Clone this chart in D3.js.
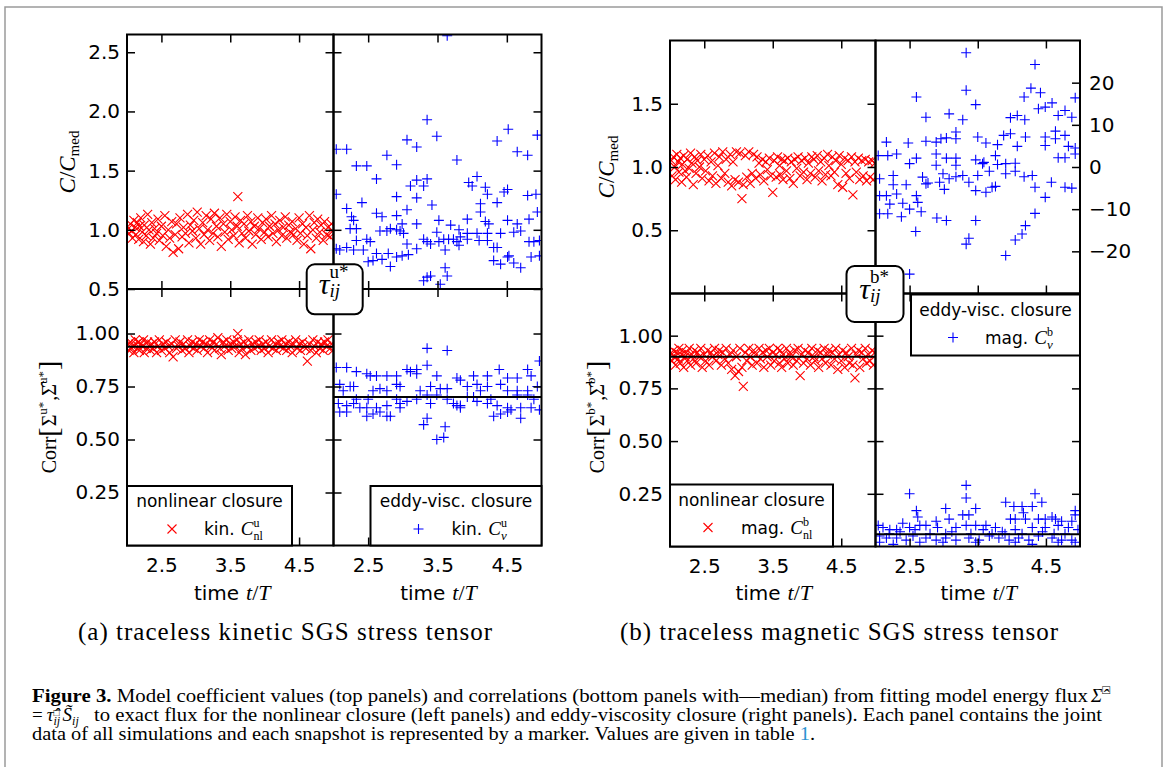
<!DOCTYPE html>
<html>
<head>
<meta charset="utf-8">
<script src="https://cdn.jsdelivr.net/npm/d3@7"></script>
<style>
body { margin: 0; background: #fff; }
.tick text { font-family: "DejaVu Sans"; font-size: 20px; fill: #000; }
</style>
</head>
<body>
<svg id="fig" width="1165" height="767"></svg>
<script>
// ---- data ----
var timeDomain = [2, 5];
var timeTicks = [2.5, 3.5, 4.5];
var ratioTicksKin = [0.5, 1.0, 1.5, 2.0, 2.5];
var ratioTicksMag = [0.5, 1.0, 1.5];
var twinTicks = [-20, -10, 0, 10, 20];
var corrTicks = [0.25, 0.5, 0.75, 1.0];

// snapshot times shared by the nonlinear-closure series
var nlTimes = [2.02,2.03,2.05,2.07,2.08,2.10,2.12,2.13,2.15,2.17, 2.18,2.20,2.22,2.24,2.25,2.28,2.30,2.32,2.34,2.36,
  2.38,2.40,2.43,2.45,2.47,2.50,2.52,2.55,2.57,2.60, 2.62,2.65,2.67,2.70,2.72,2.75,2.77,2.80,2.82,2.85,
  2.88,2.90,2.92,2.95,2.97,3.00,3.02,3.05,3.07,3.10, 3.12,3.15,3.17,3.20,3.22,3.25,3.27,3.30,3.32,3.35,
  3.37,3.40,3.42,3.45,3.47,3.50,3.52,3.55,3.57,3.60, 3.61,3.63,3.65,3.67,3.70,3.72,3.75,3.77,3.80,3.82,
  3.85,3.87,3.90,3.92,3.95,3.97,4.00,4.02,4.05,4.07, 4.10,4.12,4.15,4.17,4.20,4.22,4.25,4.27,4.30,4.32,
  4.35,4.37,4.40,4.42,4.45,4.47,4.50,4.52,4.55,4.57, 4.60,4.62,4.65,4.67,4.70,4.72,4.75,4.77,4.80,4.82,
  4.85,4.87,4.90,4.92,4.95,4.97,4.99];

var kinCnlTop = [1.01,0.97,1.05,0.99,0.93,1.08,1.02,0.96,1.06,0.92, 1.03,1.10,0.98,0.90,1.04,0.95,1.13,1.00,0.88,1.06,
  0.93,1.01,0.97,1.09,0.91,1.03,0.95,1.12,0.86,1.00, 0.93,1.07,0.81,0.96,1.05,0.84,1.10,0.94,1.02,0.97,
  1.13,0.89,1.04,0.99,1.08,0.93,1.15,1.01,0.88,1.06, 0.96,1.12,1.00,0.91,1.09,0.97,1.14,1.03,0.94,1.10,
  0.86,1.05,0.98,1.13,0.92,1.07,1.00,0.95,1.11,1.03, 1.28,0.89,1.08,0.97,1.05,0.93,1.12,0.99,1.07,0.88,
  1.03,0.96,1.10,1.01,0.92,1.06,0.98,1.09,0.94,1.03, 1.12,0.97,1.05,0.90,1.00,1.08,0.95,1.02,1.11,0.93,
  1.04,0.98,1.07,0.96,1.01,0.91,1.10,0.97,1.05,0.88, 1.02,0.95,1.12,0.84,1.00,1.06,0.93,1.09,0.98,1.04,
  0.91,1.07,0.96,1.02,0.94,1.05,0.99];

var kinCnlCorr = [0.95,0.92,0.96,0.93,0.94,0.91,0.97,0.95,0.93,0.96, 0.92,0.95,0.94,0.97,0.91,0.93,0.96,0.94,0.92,0.95,
  0.93,0.96,0.91,0.94,0.97,0.92,0.95,0.93,0.96,0.94, 0.91,0.95,0.89,0.97,0.93,0.94,0.96,0.92,0.95,0.93,
  0.97,0.91,0.94,0.96,0.93,0.95,0.92,0.97,0.94,0.96, 0.93,0.95,0.91,0.97,0.94,0.96,0.92,0.95,0.98,0.93,
  0.90,0.96,0.94,0.97,0.92,0.95,0.93,0.96,0.94,0.97, 1.00,0.91,0.95,0.93,0.96,0.90,0.94,0.97,0.92,0.95,
  0.93,0.96,0.94,0.97,0.92,0.95,0.93,0.96,0.91,0.94, 0.97,0.93,0.95,0.92,0.96,0.94,0.97,0.93,0.95,0.92,
  0.96,0.94,0.91,0.95,0.97,0.93,0.95,0.92,0.96,0.94, 0.93,0.87,0.95,0.92,0.97,0.94,0.91,0.96,0.93,0.95,
  0.92,0.96,0.94,0.97,0.93,0.95,0.92];

var magCnlTop = [1.05,0.93,1.08,1.00,0.90,1.10,1.04,0.96,1.07,0.88, 1.02,1.09,0.97,0.92,1.06,0.99,1.11,1.03,0.86,1.08,
  0.95,1.05,1.00,1.10,0.91,1.06,0.97,1.09,0.89,1.04, 0.93,1.11,0.87,1.01,1.08,0.91,1.12,0.95,1.06,0.88,
  1.10,0.85,1.04,0.90,1.12,0.88,1.11,0.75,0.86,1.09, 0.92,1.12,0.87,0.95,1.10,0.91,1.08,1.03,0.94,1.06,
  0.89,1.04,0.98,1.07,0.93,0.80,1.05,0.92,1.08,1.01, 0.94,1.06,0.90,1.05,0.97,1.07,0.91,1.04,0.87,1.06,
  0.99,1.08,0.93,1.05,0.96,1.07,0.90,1.03,0.95,1.08, 1.06,0.92,1.09,0.97,1.04,0.89,1.07,0.94,1.10,1.01,
  0.93,1.08,0.96,1.05,0.86,1.09,1.02,0.84,1.07,0.95, 1.05,0.91,1.08,0.78,1.04,0.96,1.07,0.90,1.05,0.93,
  1.06,0.89,1.04,0.92,1.05,0.90,1.03];

var magCnlCorr = [0.91,0.88,0.93,0.90,0.86,0.92,0.89,0.94,0.87,0.91, 0.93,0.85,0.90,0.92,0.88,0.94,0.86,0.91,0.89,0.93,
  0.87,0.92,0.90,0.94,0.85,0.91,0.88,0.93,0.86,0.92, 0.90,0.94,0.88,0.91,0.93,0.86,0.92,0.89,0.94,0.87,
  0.91,0.84,0.93,0.81,0.90,0.83,0.94,0.85,0.76,0.92, 0.88,0.94,0.90,0.86,0.93,0.91,0.87,0.94,0.89,0.92,
  0.85,0.93,0.90,0.94,0.86,0.92,0.88,0.91,0.94,0.87, 0.93,0.85,0.91,0.89,0.94,0.87,0.92,0.90,0.86,0.93,
  0.88,0.94,0.81,0.91,0.87,0.93,0.89,0.92,0.86,0.94, 0.90,0.88,0.93,0.85,0.92,0.89,0.94,0.87,0.91,0.93,
  0.86,0.92,0.89,0.94,0.84,0.91,0.88,0.93,0.85,0.92, 0.90,0.87,0.94,0.86,0.80,0.91,0.93,0.85,0.92,0.89,
  0.94,0.87,0.91,0.88,0.93,0.86,0.92];

// eddy-viscosity closure: [time, value]
var kinCnuTop = [[2.04,1.68],[2.19,1.68],[2.33,1.54],[2.48,1.54],[2.04,1.30],[2.19,1.18],[2.26,1.11],[2.41,1.23],[2.62,1.43],[2.77,1.63],
  [2.91,1.55],[3.06,1.76],[3.20,1.70],[3.35,1.93],[3.49,1.79],[2.62,1.14],[2.70,1.11],[2.91,1.12],[2.91,1.28],[3.06,1.17],
  [3.20,1.27],[3.11,1.37],[3.20,1.42],[3.35,1.43],[3.30,1.37],[3.42,1.21],[3.20,1.05],[2.99,1.05],[2.77,0.99],[2.82,1.01],
  [2.91,1.00],[2.96,0.99],[3.52,1.08],[3.49,0.98],[3.69,1.04],[3.78,1.59],[3.81,1.00],[3.93,1.09],[3.95,1.40],[4.07,1.45],
  [4.00,1.37],[4.19,1.36],[4.22,1.30],[4.36,1.23],[4.46,1.32],[4.51,1.34],[4.12,1.22],[4.12,1.15],[4.19,1.07],[4.24,1.05],
  [4.36,1.75],[4.52,1.85],[4.65,1.66],[4.80,1.63],[4.94,1.80],[4.80,1.29],[4.92,1.30],[4.94,1.15],[4.51,1.08],[4.65,1.05],
  [4.70,0.99],[4.82,1.09],[2.04,0.84],[2.09,0.83],[2.19,0.85],[2.29,0.83],[2.33,1.01],[2.33,0.91],[2.43,0.83],[2.48,0.92],
  [2.53,0.90],[2.50,0.73],[2.57,0.74],[2.62,0.80],[2.70,0.75],[2.79,0.80],[2.82,0.69],[2.91,0.77],[2.99,0.78],[3.06,0.88],
  [3.08,0.79],[3.20,0.84],[3.30,0.92],[3.35,0.90],[3.40,0.88],[3.52,0.90],[3.59,0.92],[3.61,0.83],[3.66,0.92],[3.73,0.92],
  [3.78,0.90],[3.81,0.87],[3.83,0.94],[3.93,0.92],[4.07,0.97],[4.10,0.91],[4.22,0.97],[4.22,0.91],[4.31,0.85],[4.36,0.85],
  [4.41,0.97],[4.51,0.77],[4.53,0.78],[4.60,0.72],[4.70,0.68],[4.31,0.74],[4.41,0.71],[4.60,0.98],[4.82,0.90],[4.89,0.90],
  [4.97,0.91],[4.97,0.78],[4.85,0.77],[3.35,0.60],[3.40,0.61],[3.30,0.57],[3.54,0.54],[3.61,0.68],[3.64,0.61],[3.64,2.64],
  [2.29,1.08],[2.24,1.01],[2.67,0.99],[3.01,0.97],[3.93,0.97]];

var kinCnuCorr = [[3.35,0.93],[3.64,0.92],[3.35,0.85],[2.04,0.84],[2.19,0.84],[2.33,0.82],[2.48,0.81],[2.62,0.80],[2.77,0.80],[2.91,0.80],
  [3.06,0.83],[3.20,0.83],[3.11,0.82],[3.20,0.81],[3.49,0.80],[3.78,0.79],[4.02,0.80],[4.22,0.80],[4.39,0.83],[4.51,0.79],
  [4.65,0.79],[4.80,0.83],[4.85,0.80],[4.97,0.87],[2.09,0.76],[2.24,0.75],[2.14,0.73],[2.29,0.75],[2.57,0.73],[2.67,0.74],
  [2.77,0.73],[2.91,0.76],[2.96,0.75],[3.25,0.73],[3.40,0.75],[3.54,0.74],[3.64,0.74],[3.93,0.75],[4.07,0.76],[4.12,0.73],
  [4.22,0.75],[4.41,0.76],[4.51,0.73],[4.65,0.73],[4.80,0.73],[4.94,0.75],[4.80,0.71],[4.65,0.71],[2.07,0.67],[2.19,0.66],
  [2.29,0.67],[2.38,0.65],[2.48,0.65],[2.50,0.69],[2.62,0.65],[2.77,0.66],[2.96,0.67],[3.06,0.68],[3.20,0.69],[3.35,0.71],
  [3.49,0.71],[3.64,0.69],[3.73,0.67],[3.83,0.65],[3.93,0.70],[4.07,0.68],[4.22,0.67],[4.36,0.66],[4.51,0.65],[4.70,0.65],
  [4.85,0.65],[4.97,0.64],[2.09,0.63],[2.19,0.63],[2.48,0.61],[2.57,0.62],[2.67,0.63],[2.77,0.61],[2.82,0.61],[3.78,0.66],
  [3.83,0.66],[4.31,0.61],[4.41,0.62],[4.70,0.60],[3.30,0.57],[3.35,0.60],[3.61,0.56],[3.49,0.50],[3.59,0.51],[4.51,0.63],
  [4.56,0.64],[2.33,0.69],[2.91,0.69],[4.02,0.70],[4.27,0.69],[4.89,0.69],[2.96,0.65],[3.40,0.67],[2.53,0.80],[3.83,0.78]];

var magCnuTop = [[3.33,27.1],[4.34,24.3],[2.60,16.6],[3.33,18.2],[3.47,14.8],[4.18,16.6],[4.28,18.7],[4.42,17.6],[2.74,11.8],[3.08,12.6],
  [3.28,11.2],[4.39,13.8],[4.49,14.2],[4.59,15.2],[4.68,12.2],[4.78,13.4],[4.88,11.8],[4.93,16.4],[3.98,11.7],[4.08,12.2],
  [4.19,11.2],[2.16,5.9],[2.48,5.7],[2.74,6.1],[2.89,5.9],[2.96,6.7],[3.04,6.9],[3.18,8.3],[3.18,6.7],[3.50,7.1],
  [3.62,5.7],[3.79,5.3],[3.88,7.5],[3.98,7.9],[4.08,4.9],[4.20,7.1],[4.49,7.1],[4.49,5.1],[4.64,6.7],[4.64,8.5],
  [4.78,7.5],[4.83,4.9],[4.93,4.5],[4.93,3.1],[2.04,2.7],[2.18,2.7],[2.31,3.1],[2.50,0.8],[2.60,2.1],[2.89,3.1],
  [2.89,0.4],[3.04,2.1],[3.18,2.1],[3.18,0.4],[3.47,1.7],[3.59,1.1],[3.76,2.7],[3.79,0.6],[3.91,0.8],[4.05,0.9],
  [4.05,-1.0],[4.68,2.2],[4.78,2.2],[2.06,-2.8],[2.26,-4.2],[2.45,-4.2],[2.69,-2.4],[2.74,-4.0],[2.94,-3.6],[2.99,-1.6],
  [3.08,-2.8],[3.18,-2.3],[3.28,-2.0],[3.37,-3.6],[3.50,-2.0],[3.67,-1.0],[3.76,-4.6],[3.91,-1.6],[4.18,-2.3],[4.30,-2.0],
  [4.34,-4.8],[4.58,-3.6],[4.78,-4.8],[4.88,-5.0],[2.06,-6.8],[2.16,-6.8],[2.31,-6.4],[2.21,-8.8],[2.40,-8.6],[2.50,-10.0],
  [2.60,-6.8],[2.62,-8.4],[2.06,-11.1],[2.18,-11.1],[2.38,-11.8],[2.67,-10.6],[2.90,-12.1],[3.04,-12.7],[3.47,-12.7],[2.59,-15.3],
  [3.33,-18.3],[3.37,-16.9],[3.91,-21.0],[4.05,-17.3],[4.15,-15.9],[4.20,-13.9],[4.34,-11.0],[4.49,-7.2],[3.47,-5.6],[3.62,-6.0],
  [3.71,-4.8],[2.77,-3.8],[3.01,-5.3],[2.50,-25.4],[2.26,-2.0],[3.57,0.8]];

var magCnuCorr = [[2.50,0.25],[3.33,0.29],[3.33,0.23],[3.47,0.18],[3.28,0.15],[3.37,0.15],[3.03,0.18],[3.08,0.13],[2.60,0.17],[2.62,0.14],
  [3.91,0.21],[4.03,0.19],[4.15,0.19],[4.30,0.19],[4.34,0.25],[4.44,0.21],[4.17,0.16],[3.98,0.13],[4.05,0.13],[4.20,0.13],
  [4.39,0.13],[4.49,0.13],[4.59,0.14],[4.64,0.13],[4.73,0.12],[4.88,0.12],[4.93,0.17],[4.93,0.15],[2.04,0.10],[2.11,0.09],
  [2.21,0.08],[2.31,0.08],[2.40,0.11],[2.50,0.09],[2.65,0.10],[2.74,0.10],[2.89,0.12],[2.91,0.09],[3.18,0.09],[3.33,0.10],
  [3.47,0.10],[3.62,0.10],[3.76,0.09],[3.86,0.07],[4.05,0.08],[4.30,0.09],[4.49,0.09],[4.68,0.10],[4.83,0.09],[2.06,0.05],
  [2.16,0.04],[2.31,0.04],[2.45,0.03],[2.55,0.05],[2.74,0.04],[2.89,0.03],[3.03,0.04],[3.18,0.03],[3.37,0.04],[3.52,0.03],
  [3.67,0.05],[3.81,0.04],[3.96,0.03],[4.10,0.04],[4.25,0.03],[4.39,0.05],[4.59,0.04],[4.73,0.03],[4.88,0.03],[2.06,0.02],
  [2.26,0.01],[2.65,0.02],[2.99,0.02],[3.47,0.02],[4.05,0.02],[4.30,0.01],[4.68,0.02],[4.93,0.02],[3.03,0.06],[3.71,0.06],
  [4.78,0.06],[2.20,0.06],[2.36,0.07],[2.58,0.08],[2.80,0.06],[3.12,0.07],[3.40,0.06],[3.58,0.08],[3.90,0.06],[4.15,0.06],
  [4.45,0.07],[4.62,0.06],[4.97,0.08]];

// medians of the correlation panels: kin nl, kin nu, mag nl, mag nu
var corrMedians = [0.937, 0.70, 0.90, 0.058];

// ---- drawing ----
var svg = d3.select('#fig');
var crossPath = 'M-4.5,-4.5L4.5,4.5M-4.5,4.5L4.5,-4.5';
var plusPath = 'M-5,0H5M0,-5V5';
var clipN = 0;

// frame round the whole figure
svg.append('rect').attr('x', 5).attr('y', 7).attr('width', 1157).attr('height', 800)
  .attr('fill', 'none').attr('stroke', '#9a9a9a').attr('stroke-width', 1.5);

// lay out a row of text pieces (for the little math labels)
function rich(parent, items, anchor) {
  var g = parent.append('g');
  var cx = 0, endX = 0, markX = 0;
  items.forEach(function(it) {
    if (it.mark) markX = cx;
    var x = it.back ? markX : cx;
    var t = g.append('text').attr('x', x).attr('y', it.dy || 0)
      .attr('font-family', it.f === 'sans' ? 'DejaVu Sans' : 'Liberation Serif')
      .attr('font-style', it.f === 'it' ? 'italic' : 'normal')
      .attr('font-size', it.s).attr('fill', '#000').text(it.t);
    var w = t.node().getComputedTextLength();
    endX = Math.max(endX, x + w + (it.gap || 0));
    cx = endX;
  });
  if (anchor === 'middle') {
    g.selectAll('text').attr('x', function() { return +d3.select(this).attr('x') - endX / 2; });
  }
  return g;
}

function makePanel(o) {
  var x = d3.scaleLinear().domain(timeDomain).range([o.x0, o.x1]);
  var y = d3.scaleLinear().domain(o.yDom).range([o.y1, o.y0]);
  var id = 'clip' + (clipN++);
  svg.append('clipPath').attr('id', id).append('rect')
    .attr('x', o.x0).attr('y', o.y0).attr('width', o.x1 - o.x0).attr('height', o.y1 - o.y0);
  var plot = svg.append('g').attr('clip-path', 'url(#' + id + ')');
  return {x: x, y: y, plot: plot, o: o};
}

function scatter(p, data, shape, color) {
  p.plot.selectAll(null).data(data).enter().append('path')
    .attr('d', shape)
    .attr('transform', function(d) { return 'translate(' + p.x(d[0]) + ',' + p.y(d[1]) + ')'; })
    .attr('fill', 'none').attr('stroke', color).attr('stroke-width', 1.1);
}

function median(p, v) {
  p.plot.append('line').attr('x1', p.o.x0).attr('x2', p.o.x1)
    .attr('y1', p.y(v)).attr('y2', p.y(v)).attr('stroke', '#000').attr('stroke-width', 2);
}

function tidy(sel) {
  sel.select('.domain').remove();
  sel.selectAll('.tick line').attr('stroke', '#000').attr('stroke-width', 1.5);
}

function frame(p) {
  var o = p.o, g = svg.append('g'), tk = 8;
  if (o.leftTicks) {
    g.append('g').attr('transform', 'translate(' + o.x0 + ',0)')
      .call(d3.axisLeft(p.y).tickValues(o.leftTicks).tickSize(-tk).tickSizeOuter(0).tickPadding(7)
        .tickFormat(o.leftLabels ? d3.format(o.fmt) : ''))
      .call(tidy);
  }
  if (o.rightTicks) {
    g.append('g').attr('transform', 'translate(' + o.x1 + ',0)')
      .call(d3.axisRight(p.y).tickValues(o.rightTicks).tickSize(-tk).tickSizeOuter(0).tickPadding(9)
        .tickFormat(o.rightLabels ? d3.format(o.fmt) : ''))
      .call(tidy);
  }
  g.append('g').attr('transform', 'translate(0,' + o.y0 + ')')
    .call(d3.axisTop(p.x).tickValues(timeTicks).tickSize(-tk).tickSizeOuter(0).tickFormat(''))
    .call(tidy);
  g.append('g').attr('transform', 'translate(0,' + o.y1 + ')')
    .call(d3.axisBottom(p.x).tickValues(timeTicks).tickSize(-tk).tickSizeOuter(0).tickPadding(12)
      .tickFormat(o.bottomLabels ? d3.format('.1f') : ''))
    .call(tidy);
  g.append('rect').attr('x', o.x0).attr('y', o.y0).attr('width', o.x1 - o.x0).attr('height', o.y1 - o.y0)
    .attr('fill', 'none').attr('stroke', '#000').attr('stroke-width', 2);
}

function legend(bx, by, w, h, title, shape, color, mx, tx, items) {
  var g = svg.append('g').attr('transform', 'translate(' + bx + ',' + by + ')');
  g.append('rect').attr('width', w).attr('height', h)
    .attr('fill', '#fff').attr('stroke', '#000').attr('stroke-width', 2);
  g.append('text').attr('x', w / 2).attr('y', 21).attr('text-anchor', 'middle')
    .attr('font-family', 'DejaVu Sans').attr('font-size', 17).text(title);
  g.append('path').attr('d', shape).attr('transform', 'translate(' + mx + ',43)')
    .attr('fill', 'none').attr('stroke', color).attr('stroke-width', 1.1);
  rich(g, items).attr('transform', 'translate(' + tx + ',49)');
}

function tauBox(cx, cy, w, h, sup) {
  var g = svg.append('g');
  g.append('rect').attr('x', cx - w / 2).attr('y', cy - h / 2).attr('width', w).attr('height', h)
    .attr('rx', 8).attr('fill', '#fff').attr('stroke', '#000').attr('stroke-width', 2);
  rich(g, [
    {t: '\u03c4', f: 'it', s: 30},
    {t: sup, f: 'rm', s: 19, dy: -16, mark: true},
    {t: '*', f: 'rm', s: 19, dy: -16},
    {t: 'ij', f: 'it', s: 19, dy: 3, back: true}
  ], 'middle').attr('transform', 'translate(' + (cx - 1) + ',' + (cy + 5) + ')');
}

function ylabel(cx, cy, size, items) {
  rich(svg, items, 'middle')
    .attr('transform', 'translate(' + (cx + 0.35 * size) + ',' + cy + ') rotate(-90)');
}

function xlabel(cx, cy) {
  rich(svg, [
    {t: 'time', f: 'sans', s: 20, gap: 7},
    {t: 't', f: 'it', s: 22},
    {t: '/', f: 'rm', s: 22},
    {t: 'T', f: 'it', s: 22}
  ], 'middle').attr('transform', 'translate(' + cx + ',' + cy + ')');
}

function pairs(times, vals) {
  return times.map(function(t, i) { return [t, vals[i]]; }).filter(function(d) { return d[1] != null; });
}

// panel geometry
var A = {x0: 127, xm: 333.5, x1: 541.5, y0: 34.5, ym: 289, y1: 545.5};
var B = {x0: 670, xm: 875.5, x1: 1080, y0: 40.5, ym: 293.5, y1: 546.5};

var pA1 = makePanel({x0: A.x0, x1: A.xm, y0: A.y0, y1: A.ym, yDom: [0.5, 2.65], fmt: '.1f',
  leftTicks: ratioTicksKin, leftLabels: true, rightTicks: ratioTicksKin});
var pA2 = makePanel({x0: A.xm, x1: A.x1, y0: A.y0, y1: A.ym, yDom: [0.5, 2.65], fmt: '.1f',
  leftTicks: ratioTicksKin, rightTicks: ratioTicksKin});
var pA3 = makePanel({x0: A.x0, x1: A.xm, y0: A.ym, y1: A.y1, yDom: [0, 1.21], fmt: '.2f',
  leftTicks: corrTicks, leftLabels: true, rightTicks: corrTicks, bottomLabels: true});
var pA4 = makePanel({x0: A.xm, x1: A.x1, y0: A.ym, y1: A.y1, yDom: [0, 1.21], fmt: '.2f',
  leftTicks: corrTicks, rightTicks: corrTicks, bottomLabels: true});
var pB1 = makePanel({x0: B.x0, x1: B.xm, y0: B.y0, y1: B.ym, yDom: [0, 2.0], fmt: '.1f',
  leftTicks: ratioTicksMag, leftLabels: true, rightTicks: ratioTicksMag});
var pB2 = makePanel({x0: B.xm, x1: B.x1, y0: B.y0, y1: B.ym, yDom: [-30, 30], fmt: 'd',
  rightTicks: twinTicks, rightLabels: true});
var pB3 = makePanel({x0: B.x0, x1: B.xm, y0: B.ym, y1: B.y1, yDom: [0, 1.2], fmt: '.2f',
  leftTicks: corrTicks, leftLabels: true, rightTicks: corrTicks, bottomLabels: true});
var pB4 = makePanel({x0: B.xm, x1: B.x1, y0: B.ym, y1: B.y1, yDom: [0, 1.2], fmt: '.2f',
  leftTicks: corrTicks, rightTicks: corrTicks, bottomLabels: true});

scatter(pA1, pairs(nlTimes, kinCnlTop), crossPath, '#ff0000');
scatter(pA2, kinCnuTop, plusPath, '#0000ff');
scatter(pA3, pairs(nlTimes, kinCnlCorr), crossPath, '#ff0000');
scatter(pA4, kinCnuCorr, plusPath, '#0000ff');
scatter(pB1, pairs(nlTimes, magCnlTop), crossPath, '#ff0000');
scatter(pB2, magCnuTop, plusPath, '#0000ff');
scatter(pB3, pairs(nlTimes, magCnlCorr), crossPath, '#ff0000');
scatter(pB4, magCnuCorr, plusPath, '#0000ff');

median(pA3, corrMedians[0]);
median(pA4, corrMedians[1]);
median(pB3, corrMedians[2]);
median(pB4, corrMedians[3]);

[pA1, pA2, pA3, pA4, pB1, pB2, pB3, pB4].forEach(frame);

// legends
legend(A.x0, 486, 165, A.y1 - 486, 'nonlinear closure', crossPath, '#ff0000', 45, 77, [
  {t: 'kin.', f: 'sans', s: 17, gap: 6}, {t: 'C', f: 'it', s: 19},
  {t: 'u', f: 'rm', s: 12, dy: -8, mark: true}, {t: 'nl', f: 'rm', s: 12, dy: 5, back: true}]);
legend(370.5, 486, A.x1 - 370.5, A.y1 - 486, 'eddy-visc. closure', plusPath, '#0000ff', 48, 81, [
  {t: 'kin.', f: 'sans', s: 17, gap: 6}, {t: 'C', f: 'it', s: 19},
  {t: 'u', f: 'rm', s: 12, dy: -8, mark: true}, {t: '\u03bd', f: 'it', s: 13, dy: 5, back: true}]);
legend(B.x0, 484.5, 163, B.y1 - 484.5, 'nonlinear closure', crossPath, '#ff0000', 38, 71, [
  {t: 'mag.', f: 'sans', s: 17, gap: 6}, {t: 'C', f: 'it', s: 19},
  {t: 'b', f: 'rm', s: 12, dy: -8, mark: true}, {t: 'nl', f: 'rm', s: 12, dy: 5, back: true}]);
legend(911, B.ym + 1, B.x1 - 911, 61, 'eddy-visc. closure', plusPath, '#0000ff', 42, 74, [
  {t: 'mag.', f: 'sans', s: 17, gap: 6}, {t: 'C', f: 'it', s: 19},
  {t: 'b', f: 'rm', s: 12, dy: -8, mark: true}, {t: '\u03bd', f: 'it', s: 13, dy: 5, back: true}]);

// tensor labels at the panel junctions
tauBox(334.7, 289.3, 56, 50, 'u');
tauBox(875, 294, 57, 56, 'b');

// axis titles
function ratioLabel() {
  return [{t: 'C', f: 'it', s: 23}, {t: '/', f: 'rm', s: 23}, {t: 'C', f: 'it', s: 23}, {t: 'med', f: 'rm', s: 15, dy: 4}];
}
function corrLabel(s) {
  return [{t: 'Corr', f: 'rm', s: 20}, {t: '[', f: 'rm', s: 28, dy: 2, gap: 1},
    {t: '\u03a3', f: 'rm', s: 20}, {t: s, f: 'rm', s: 13, dy: -9}, {t: '*', f: 'rm', s: 13, dy: -9, gap: 1},
    {t: ',', f: 'rm', s: 20}, {t: '\u03a3\u0302', f: 'rm', s: 20}, {t: s, f: 'rm', s: 13, dy: -9},
    {t: '*', f: 'rm', s: 13, dy: -9, gap: 1}, {t: ']', f: 'rm', s: 28, dy: 2}];
}
ylabel(67, 162, 23, ratioLabel());
ylabel(606, 167, 23, ratioLabel());
ylabel(49, 417, 20, corrLabel('u'));
ylabel(597, 417, 20, corrLabel('b'));

xlabel((A.x0 + A.xm) / 2 + 2, 600);
xlabel((A.xm + A.x1) / 2 + 1, 600);
xlabel((B.x0 + B.xm) / 2 + 1, 600);
xlabel((B.xm + B.x1) / 2 + 1, 600);

// sub-figure captions
svg.append('text').attr('x', 285).attr('y', 640).attr('text-anchor', 'middle')
  .attr('font-family', 'Liberation Serif').attr('font-size', 25)
  .attr('textLength', 414).attr('lengthAdjust', 'spacing')
  .text('(a) traceless kinetic SGS stress tensor');
svg.append('text').attr('x', 839).attr('y', 640).attr('text-anchor', 'middle')
  .attr('font-family', 'Liberation Serif').attr('font-size', 25)
  .attr('textLength', 438).attr('lengthAdjust', 'spacing')
  .text('(b) traceless magnetic SGS stress tensor');

// figure caption
var capY = [702, 721, 740];
var capSize = 19;
var cap1 = svg.append('text').attr('x', 32).attr('y', capY[0])
  .attr('font-family', 'Liberation Serif').attr('font-size', capSize)
  .attr('textLength', 1056).attr('lengthAdjust', 'spacingAndGlyphs');
cap1.append('tspan').attr('font-weight', 'bold').text('Figure 3.');
cap1.append('tspan').text(' Model coefficient values (top panels) and correlations (bottom panels with\u2014median) from fitting model energy flux');
rich(svg, [{t: '\u03a3\u0302', f: 'it', s: capSize}, {t: '\u25a1', f: 'rm', s: 13, dy: -8}])
  .attr('transform', 'translate(1091,' + capY[0] + ')');

rich(svg, [{t: '=', f: 'rm', s: capSize, gap: 4}, {t: '\u03c4\u0302', f: 'it', s: capSize},
  {t: 'ij', f: 'it', s: 12, dy: 4, mark: true}, {t: '\u25a1', f: 'rm', s: 10, dy: -5, back: true, gap: 3},
  {t: 'S\u0303', f: 'it', s: capSize}, {t: 'ij', f: 'it', s: 12, dy: 4}])
  .attr('transform', 'translate(32,' + capY[1] + ')');
svg.append('text').attr('x', 94).attr('y', capY[1])
  .attr('font-family', 'Liberation Serif').attr('font-size', capSize)
  .attr('textLength', 1008).attr('lengthAdjust', 'spacingAndGlyphs')
  .text('to exact flux for the nonlinear closure (left panels) and eddy-viscosity closure (right panels). Each panel contains the joint');

var cap3 = svg.append('text').attr('x', 32).attr('y', capY[2])
  .attr('font-family', 'Liberation Serif').attr('font-size', capSize)
  .attr('textLength', 783).attr('lengthAdjust', 'spacingAndGlyphs');
cap3.append('tspan').text('data of all simulations and each snapshot is represented by a marker. Values are given in table ');
cap3.append('tspan').attr('fill', '#2b92d0').text('1');
cap3.append('tspan').text('.');
</script>
</body>
</html>
